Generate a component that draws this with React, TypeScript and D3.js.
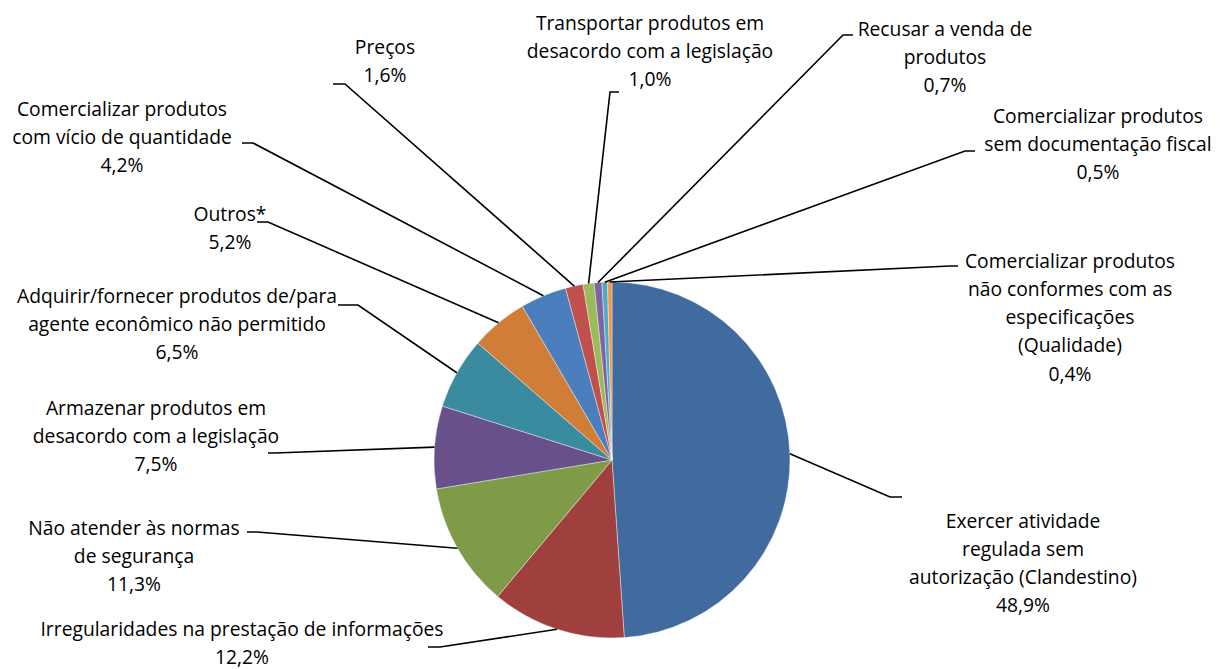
import React from "react";
import * as d3 from "d3";

const categories = [
  "Exercer atividade regulada sem autorização (Clandestino)",
  "Irregularidades na prestação de informações",
  "Não atender às normas de segurança",
  "Armazenar produtos em desacordo com a legislação",
  "Adquirir/fornecer produtos de/para agente econômico não permitido",
  "Outros*",
  "Comercializar produtos com vício de quantidade",
  "Preços",
  "Transportar produtos em desacordo com a legislação",
  "Recusar a venda de produtos",
  "Comercializar produtos sem documentação fiscal",
  "Comercializar produtos não conformes com as especificações (Qualidade)",
];
const values = [48.9, 12.2, 11.3, 7.5, 6.5, 5.2, 4.2, 1.6, 1.0, 0.7, 0.5, 0.4];
const valueLabels = ["48,9%", "12,2%", "11,3%", "7,5%", "6,5%", "5,2%", "4,2%", "1,6%", "1,0%", "0,7%", "0,5%", "0,4%"];
const labelLines = [
  ["Exercer atividade", "regulada sem", "autorização (Clandestino)"],
  ["Irregularidades na prestação de informações"],
  ["Não atender às normas", "de segurança"],
  ["Armazenar produtos em", "desacordo com a legislação"],
  ["Adquirir/fornecer produtos de/para", "agente econômico não permitido"],
  ["Outros*"],
  ["Comercializar produtos", "com vício de quantidade"],
  ["Preços"],
  ["Transportar produtos em", "desacordo com a legislação"],
  ["Recusar a venda de", "produtos"],
  ["Comercializar produtos", "sem documentação fiscal"],
  ["Comercializar produtos", "não conformes com as", "especificações", "(Qualidade)"],
];

const colors = [
  "#416A9E", "#A0403E", "#7F9B48", "#68518A", "#3A8BA0", "#D07D38",
  "#4B7EBD", "#C0504D", "#9BBB59", "#8064A2", "#4BACC6", "#F79646",
];

// layout: label block center x, first line center y, leader elbow and horizontal end
const layout = [
  { lx: 1023, ly: 520, ex: 890, ey: 497, hx: 902 },
  { lx: 242, ly: 628, ex: 440, ey: 647, hx: 428 },
  { lx: 134, ly: 527, ex: 257, ey: 532, hx: 247 },
  { lx: 156, ly: 407, ex: 275, ey: 453, hx: 268 },
  { lx: 177, ly: 295, ex: 358, ey: 305, hx: 338 },
  { lx: 230, ly: 213, ex: 268, ey: 222, hx: 257 },
  { lx: 122, ly: 108, ex: 253, ey: 143, hx: 242 },
  { lx: 385, ly: 46, ex: 345, ey: 84, hx: 333 },
  { lx: 650, ly: 22, ex: 610, ey: 92, hx: 619 },
  { lx: 945, ly: 28, ex: 843, ey: 35, hx: 853 },
  { lx: 1098, ly: 115, ex: 965, ey: 151, hx: 975 },
  { lx: 1070, ly: 260, ex: 950, ey: 266, hx: 958 },
];

const W = 1223, H = 669;
const cx = 612, cy = 460, R = 178;
const lineH = 28.3;

export default function App() {
  const pie = d3.pie<number>().sort(null).value((d) => d);
  const arcs = pie(values);
  const arc = d3.arc<d3.PieArcDatum<number>>().innerRadius(0).outerRadius(R);
  const edge = d3.arc<d3.PieArcDatum<number>>().innerRadius(R).outerRadius(R);

  return (
    <svg width={W} height={H} style={{ position: "absolute", left: 0, top: 0, background: "#fff" }}>
      <g transform={`translate(${cx},${cy})`}>
        {arcs.map((a, i) => (
          <path key={i} d={arc(a) as string} fill={colors[i]} stroke="#fff" strokeWidth={0.4} />
        ))}
      </g>
      {arcs.map((a, i) => {
        const [px, py] = edge.centroid(a);
        const L = layout[i];
        return (
          <polyline
            key={"l" + i}
            points={`${cx + px},${cy + py} ${L.ex},${L.ey} ${L.hx},${L.ey}`}
            fill="none"
            stroke="#000"
            strokeWidth={1.6}
          />
        );
      })}
      {labelLines.map((lines, i) => {
        const L = layout[i];
        const all = [...lines, valueLabels[i]];
        return (
          <text
            key={"t" + i}
            textAnchor="middle"
            fontFamily="'Open Sans', sans-serif"
            fontSize={19.3}
            fill="#000"
          >
            {all.map((s, j) => (
              <tspan key={j} x={L.lx} y={L.ly + j * lineH} dominantBaseline="central">
                {s}
              </tspan>
            ))}
          </text>
        );
      })}
    </svg>
  );
}
